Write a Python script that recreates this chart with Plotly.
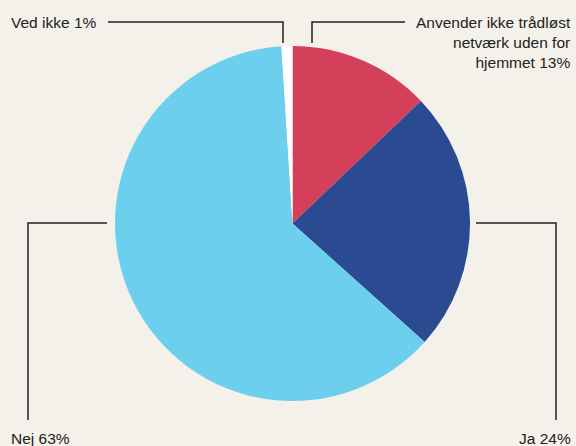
import plotly.graph_objects as go

labels = ["Anvender ikke trådløst<br>netværk uden for<br>hjemmet 13%", "Ja 24%", "Nej 63%", "Ved ikke 1%"]
names = ["Anvender ikke trådløst netværk uden for hjemmet", "Ja", "Nej", "Ved ikke"]
values = [13, 24, 63, 1]
colors = ["#d4405a", "#2a4b92", "#6dcfee", "#ffffff"]

W, H = 576, 446
BG = "#f4f1ea"
cx, cy, r = 292.5, 223.5, 177.5

fig = go.Figure(go.Pie(
    labels=names, values=values, sort=False, direction="clockwise", rotation=0,
    marker=dict(colors=colors, line=dict(width=0)),
    textinfo="none", hoverinfo="skip", showlegend=False,
    domain=dict(x=[(cx - r) / W, (cx + r) / W], y=[(H - cy - r) / H, (H - cy + r) / H]),
))

def px(x):
    return x / W

def py(y):
    return 1 - y / H

line = dict(color="#222222", width=1.5)
segs = [
    [(108, 22), (283, 22), (283, 43)],
    [(405, 22), (312, 22), (312, 43)],
    [(107, 223), (28, 223), (28, 420)],
    [(476, 223), (556, 223), (556, 420)],
]
shapes = []
for s in segs:
    path = "M " + " L ".join(f"{px(x)},{py(y)}" for x, y in s)
    shapes.append(dict(type="path", xref="paper", yref="paper", path=path, line=line))

font = dict(family="Liberation Sans, Arial, sans-serif", size=15.5, color="#222222")
annotations = [
    dict(text=labels[3], x=px(9), y=py(22), xanchor="left", yanchor="middle", showarrow=False, font=font),
    dict(text=labels[0], x=px(573), y=py(12), xanchor="right", yanchor="top", align="right", showarrow=False, font=font),
    dict(text=labels[2], x=px(9), y=py(438), xanchor="left", yanchor="middle", showarrow=False, font=font),
    dict(text=labels[1], x=px(573), y=py(438), xanchor="right", yanchor="middle", showarrow=False, font=font),
]

fig.update_layout(
    width=W, height=H, margin=dict(l=0, r=0, t=0, b=0),
    paper_bgcolor=BG, plot_bgcolor=BG,
    shapes=shapes, annotations=annotations,
)
fig.write_html(
    "out.html",
    config={"displayModeBar": False},
    post_script="document.body.style.margin='0';document.body.style.padding='0';document.body.style.overflow='hidden';document.body.style.background='" + BG + "';",
)
